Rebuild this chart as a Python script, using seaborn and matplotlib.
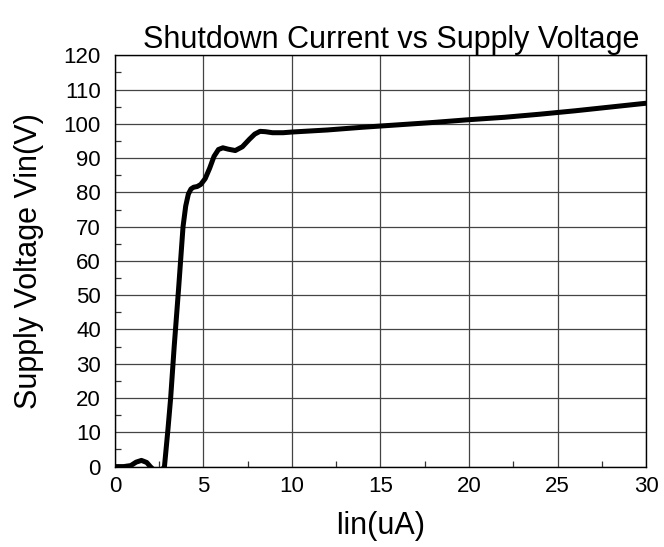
"""
Shutdown current vs supply voltage curve, redrawn with seaborn.
"""

import pandas as pd
import matplotlib.pyplot as plt
import seaborn as sns
from matplotlib.ticker import MultipleLocator

# Values
current_ua = [0, 0.5, 0.9, 1.2, 1.5, 1.8, 2.0, 2.3, 2.6, 2.8, 3.0, 3.15,
              3.35, 3.6, 3.85, 4.0, 4.15, 4.3, 4.45, 4.65, 4.85, 5.1, 5.35,
              5.6, 5.85, 6.1, 6.4, 6.8, 7.2, 7.6, 7.9, 8.2, 8.5, 8.9, 9.5,
              10, 12, 14, 16, 18, 20, 22, 24, 26, 28, 30]
supply_v = [0, 0, 0.3, 1.3, 1.8, 1.2, 0, -1.5, -1.5, 0, 11, 20,
            35, 52, 70, 76, 79.5, 81, 81.5, 81.7, 82.3, 84, 87,
            90.5, 92.5, 93, 92.6, 92.2, 93.3, 95.5, 97, 97.8, 97.7, 97.4, 97.4,
            97.6, 98.2, 99.0, 99.7, 100.4, 101.2, 101.9, 102.8, 103.8, 104.9, 106.0]

x_ticks = [0, 5, 10, 15, 20, 25, 30]
y_ticks = list(range(0, 121, 10))

sns.set_theme(style="white")
plt.rcParams['font.family'] = ['Liberation Sans', 'DejaVu Sans']
plt.rcParams['text.color'] = 'black'
plt.rcParams['axes.labelcolor'] = 'black'

df = pd.DataFrame({'current': current_ua, 'voltage': supply_v})

fig = plt.figure(figsize=(6.64, 5.47), dpi=100)
ax = fig.add_axes([0.173, 0.147, 0.8, 0.752])

sns.lineplot(data=df, x='current', y='voltage', ax=ax, color='black',
             linewidth=3.6, estimator=None, sort=False)

ax.set_xlim(0, 30)
ax.set_ylim(0, 120)
ax.set_xticks(x_ticks)
ax.set_yticks(y_ticks)
ax.xaxis.set_minor_locator(MultipleLocator(2.5))
ax.yaxis.set_minor_locator(MultipleLocator(5))
ax.grid(True, which='major', color='#444444', linewidth=0.9)
ax.tick_params(which='major', direction='in', length=0, labelsize=16,
               colors='black')
ax.tick_params(axis='y', which='major', pad=10)
ax.tick_params(axis='x', which='major', pad=7)
ax.tick_params(which='minor', direction='in', length=4, width=0.9,
               color='#333333', bottom=True, left=True)

for spine in ax.spines.values():
    spine.set_color('black')
    spine.set_linewidth(1.0)

ax.set_title('Shutdown Current vs Supply Voltage', fontsize=22, pad=5, x=0.52,
             color='black')
ax.set_xlabel('Iin(uA)', fontsize=22, labelpad=10)
ax.set_ylabel('Supply Voltage Vin(V)', fontsize=22, labelpad=14)

fig.savefig('out.png', dpi=100)
